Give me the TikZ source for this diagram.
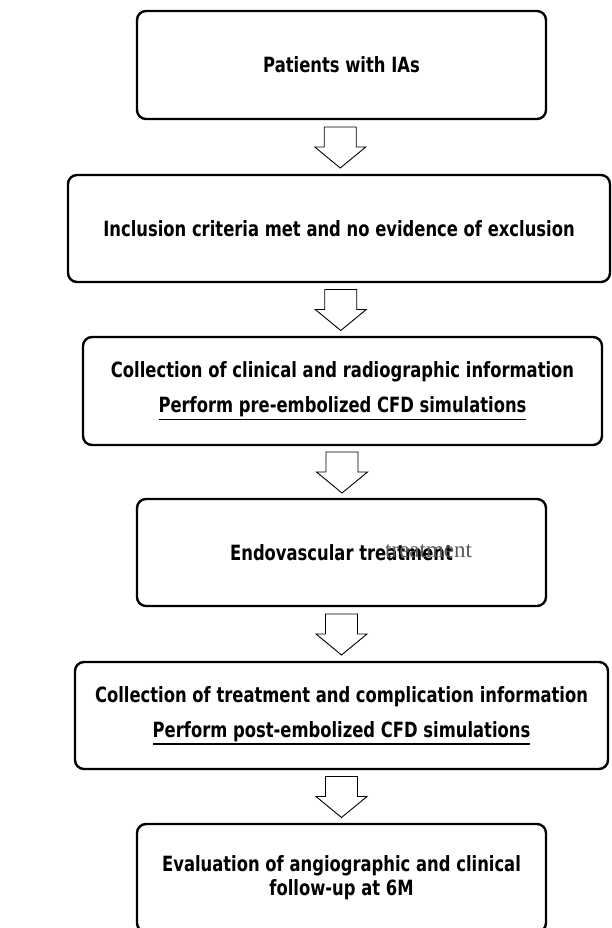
\documentclass[tikz,border=0pt]{standalone}
\usepackage{fontspec}
\setmainfont{DejaVu Sans}[FakeStretch=0.78]
\newfontfamily\ghostfont{Liberation Serif}
\newcommand\ulthick[1]{\leavevmode\vtop{\hbox{#1}\kern1.5pt\hrule height 1.8pt}}
\usetikzlibrary{calc}
\pgfdeclarelayer{edgelayer}
\pgfdeclarelayer{nodelayer}
\pgfsetlayers{edgelayer,nodelayer,main}
\tikzstyle{stage}=[draw=black,line width=2.4pt,rounded corners=9pt,fill=white,align=center,inner sep=0pt,font=\bfseries\fontsize{21}{35}\selectfont]
\tikzstyle{transition}=[draw=black,line width=0.9pt,fill=white,line join=miter,
  to path={($(\tikztostart)!0.5!(\tikztotarget)$) ++(-16,-20) -- ++(32,0) -- ++(0,20) -- ++(9.5,0) -- ++(-25.5,21) -- ++(-25.5,-21) -- ++(9.5,0) -- cycle}]

\begin{document}
\begin{tikzpicture}[x=1pt,y=-1pt]
	\useasboundingbox (0,0) rectangle (611,928);
	\begin{pgfonlayer}{nodelayer}
		\node [style=stage, minimum width=409, minimum height=108] (b1) at (341.5, 65) {Patients with IAs};
		\node [style=stage, minimum width=542, minimum height=107] (b2) at (339, 228.5) {Inclusion criteria met and no evidence of exclusion};
		\node [style=stage, minimum width=519, minimum height=108] (b3) at (342.5, 391) {Collection of clinical and radiographic information\\\ulthick{Perform pre-embolized CFD simulations}};
		\node [style=stage, minimum width=409, minimum height=107] (b4) at (341.5, 552.5) {Endovascular treatment};
		\node [text=black!65, font=\ghostfont\fontsize{23}{23}\selectfont, anchor=west, inner sep=0pt] (b4ghost) at (385, 551) {treatment};
		\node [style=stage, minimum width=533, minimum height=107] (b5) at (341.5, 715.5) {Collection of treatment and complication information\\\ulthick{Perform post-embolized CFD simulations}};
		\node [style=stage, minimum width=409, minimum height=108, font=\bfseries\fontsize{21}{24}\selectfont] (b6) at (341.5, 878) {Evaluation of angiographic and clinical\\follow-up at 6M};
	\end{pgfonlayer}
	\begin{pgfonlayer}{edgelayer}
		\draw [style=transition] (b1.south) to (b2.north);
		\draw [style=transition] (b2.south) to (b3.north);
		\draw [style=transition] (b3.south) to (b4.north);
		\draw [style=transition] (b4.south) to (b5.north);
		\draw [style=transition] (b5.south) to (b6.north);
	\end{pgfonlayer}
\end{tikzpicture}
\end{document}
